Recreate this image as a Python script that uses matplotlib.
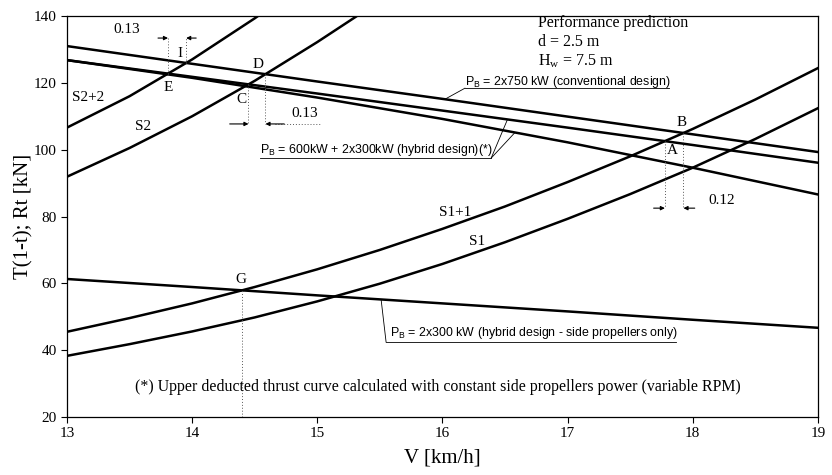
import numpy as np
import matplotlib.pyplot as plt

plt.rcParams['font.family'] = 'Liberation Serif'
plt.rcParams['mathtext.default'] = 'regular'

# speed grid [km/h]
v_int = [13, 14, 15, 16, 17, 18, 19]
v_half = [13, 13.5, 14, 14.5, 15, 15.5, 16, 16.5, 17, 17.5, 18, 18.5, 19]
v_s2 = [13, 13.5, 14, 14.5, 15, 15.5]
v_s2p2 = [13, 13.5, 14, 14.5, 15]

# deducted thrust T(1-t) [kN]
thrust_conv = [131.0, 125.7, 120.4, 115.2, 109.9, 104.6, 99.3]
thrust_hyb_upper = [126.8, 121.8, 116.8, 111.7, 106.6, 101.4, 96.1]
thrust_hyb_lower = [126.8, 121.5, 115.6, 109.2, 102.2, 94.6, 86.6]
thrust_side = [61.3, 58.9, 56.4, 54.0, 51.6, 49.1, 46.7]

# total resistance Rt [kN]
r_s1 = [38.3, 41.8, 45.6, 49.8, 54.6, 59.9, 65.8, 72.3, 79.3, 86.7, 94.6, 103.2, 112.4]
r_s1p1 = [45.5, 49.6, 54.0, 58.9, 64.2, 70.0, 76.3, 83.0, 90.3, 98.0, 106.2, 115.0, 124.4]
r_s2 = [91.9, 100.5, 110.0, 120.6, 132.2, 144.5]
r_s2p2 = [106.6, 116.0, 127.0, 139.3, 152.5]


def crossing(xa, ya, xb, yb):
    # first intersection of two polylines
    x = np.linspace(max(xa[0], xb[0]), min(xa[-1], xb[-1]), 4001)
    d = np.interp(x, xa, ya) - np.interp(x, xb, yb)
    i = np.nonzero(np.diff(np.sign(d)))[0][0]
    x0 = x[i] - d[i] * (x[i + 1] - x[i]) / (d[i + 1] - d[i])
    return x0, float(np.interp(x0, xa, ya))


fig = plt.figure(figsize=(8.32, 4.75), dpi=100)
ax = fig.add_axes([0.0805, 0.1221, 0.9025, 0.8442])

lw = 1.8
for ys in (thrust_conv, thrust_hyb_upper, thrust_hyb_lower, thrust_side):
    ax.plot(v_int, ys, color='black', lw=lw)
ax.plot(v_half, r_s1, color='black', lw=lw)
ax.plot(v_half, r_s1p1, color='black', lw=lw)
ax.plot(v_s2, r_s2, color='black', lw=lw)
ax.plot(v_s2p2, r_s2p2, color='black', lw=lw)

ax.set_xlim(13, 19)
ax.set_ylim(20, 140)
ax.set_xticks(range(13, 20))
ax.set_yticks(range(20, 141, 20))
ax.tick_params(direction='out', length=4, width=0.8, labelsize=11)
for s in ax.spines.values():
    s.set_linewidth(0.9)
ax.set_xlabel('V [km/h]', fontsize=15, labelpad=6)
ax.set_ylabel('T(1-t); Rt [kN]', fontsize=15, labelpad=0)

# operating points
pI = crossing(v_s2p2, r_s2p2, v_int, thrust_conv)
pE = crossing(v_s2p2, r_s2p2, v_int, thrust_hyb_upper)
pD = crossing(v_s2, r_s2, v_int, thrust_conv)
pC = crossing(v_s2, r_s2, v_int, thrust_hyb_upper)
pB = crossing(v_half, r_s1p1, v_int, thrust_conv)
pA = crossing(v_half, r_s1p1, v_int, thrust_hyb_upper)
pG = crossing(v_half, r_s1p1, v_int, thrust_side)

letters = [('I', pI, (-6, 9)), ('E', pE, (0, -14)), ('D', pD, (-7, 10)),
           ('C', pC, (-7, -15)), ('B', pB, (-2, 10)), ('A', pA, (7, -9)),
           ('G', pG, (-1, 11))]
for name, p, off in letters:
    ax.annotate(name, p, xytext=off, textcoords='offset pixels',
                ha='center', va='center', fontsize=11)

dot = dict(color='0.35', lw=0.7, ls=(0, (1, 2)))
arrow = dict(arrowstyle='-|>', color='black', lw=0.8, mutation_scale=6,
             shrinkA=0, shrinkB=0)


def dimension(p1, p2, y, gap, label, label_xy):
    ax.plot([p1[0], p1[0]], [p1[1], y], **dot)
    ax.plot([p2[0], p2[0]], [p2[1], y], **dot)
    ax.annotate('', (p1[0], y), xytext=(p1[0] - gap, y), arrowprops=arrow)
    ax.annotate('', (p2[0], y), xytext=(p2[0] + gap, y), arrowprops=arrow)
    ax.text(*label_xy, label, ha='center', va='center', fontsize=11)


dimension(pE, pI, 133.4, 0.08, '0.13', (13.48, 136.1))
dimension(pC, pD, 107.7, 0.15, '0.13', (14.90, 110.7))
ax.plot([pD[0] + 0.08, 15.02], [107.7, 107.7], **dot)
dimension(pA, pB, 82.5, 0.09, '0.12', (18.23, 84.9))
ax.plot([pG[0], pG[0]], [20, pG[1]], **dot)

# curve names
ax.text(13.04, 115.5, 'S2+2', ha='left', va='center', fontsize=11)
ax.text(13.61, 106.8, 'S2', ha='center', va='center', fontsize=11)
ax.text(16.10, 81.3, 'S1+1', ha='center', va='center', fontsize=11)
ax.text(16.28, 72.4, 'S1', ha='center', va='center', fontsize=11)

# case description
ax.text(16.76, 137.9, 'Performance prediction', fontsize=11.5, va='center')
ax.text(16.76, 132.2, 'd = 2.5 m', fontsize=11.5, va='center')
ax.text(16.76, 126.5, 'H$_w$ = 7.5 m', fontsize=11.5, va='center')

# power labels with underline and leader lines
sans = dict(family='Liberation Sans', fontsize=8.9, va='center', ha='left')
thin = dict(color='black', lw=0.6)

ax.text(16.18, 120.3, 'P$_B$ = 2x750 kW (conventional design)', **sans)
ax.plot([16.18, 17.81], [118.4, 118.4], **thin)
ax.plot([16.18, 16.02], [118.4, np.interp(16.02, v_int, thrust_conv)], **thin)

ax.text(14.54, 100.0, 'P$_B$ = 600kW + 2x300kW (hybrid design)(*)', **sans)
ax.plot([14.54, 16.39], [97.5, 97.5], **thin)
ax.plot([16.39, 16.52], [97.5, np.interp(16.52, v_int, thrust_hyb_upper)], **thin)
ax.plot([16.39, 16.58], [97.5, np.interp(16.58, v_int, thrust_hyb_lower)], **thin)

ax.text(15.58, 45.2, 'P$_B$ = 2x300 kW (hybrid design - side propellers only)', **sans)
ax.plot([15.55, 17.87], [42.4, 42.4], **thin)
ax.plot([15.55, 15.51], [42.4, np.interp(15.51, v_int, thrust_side)], **thin)

ax.text(15.96, 29.0, '(*) Upper deducted thrust curve calculated with constant '
        'side propellers power (variable RPM)', ha='center', va='center', fontsize=11.4)

fig.savefig('out.png', dpi=100)
